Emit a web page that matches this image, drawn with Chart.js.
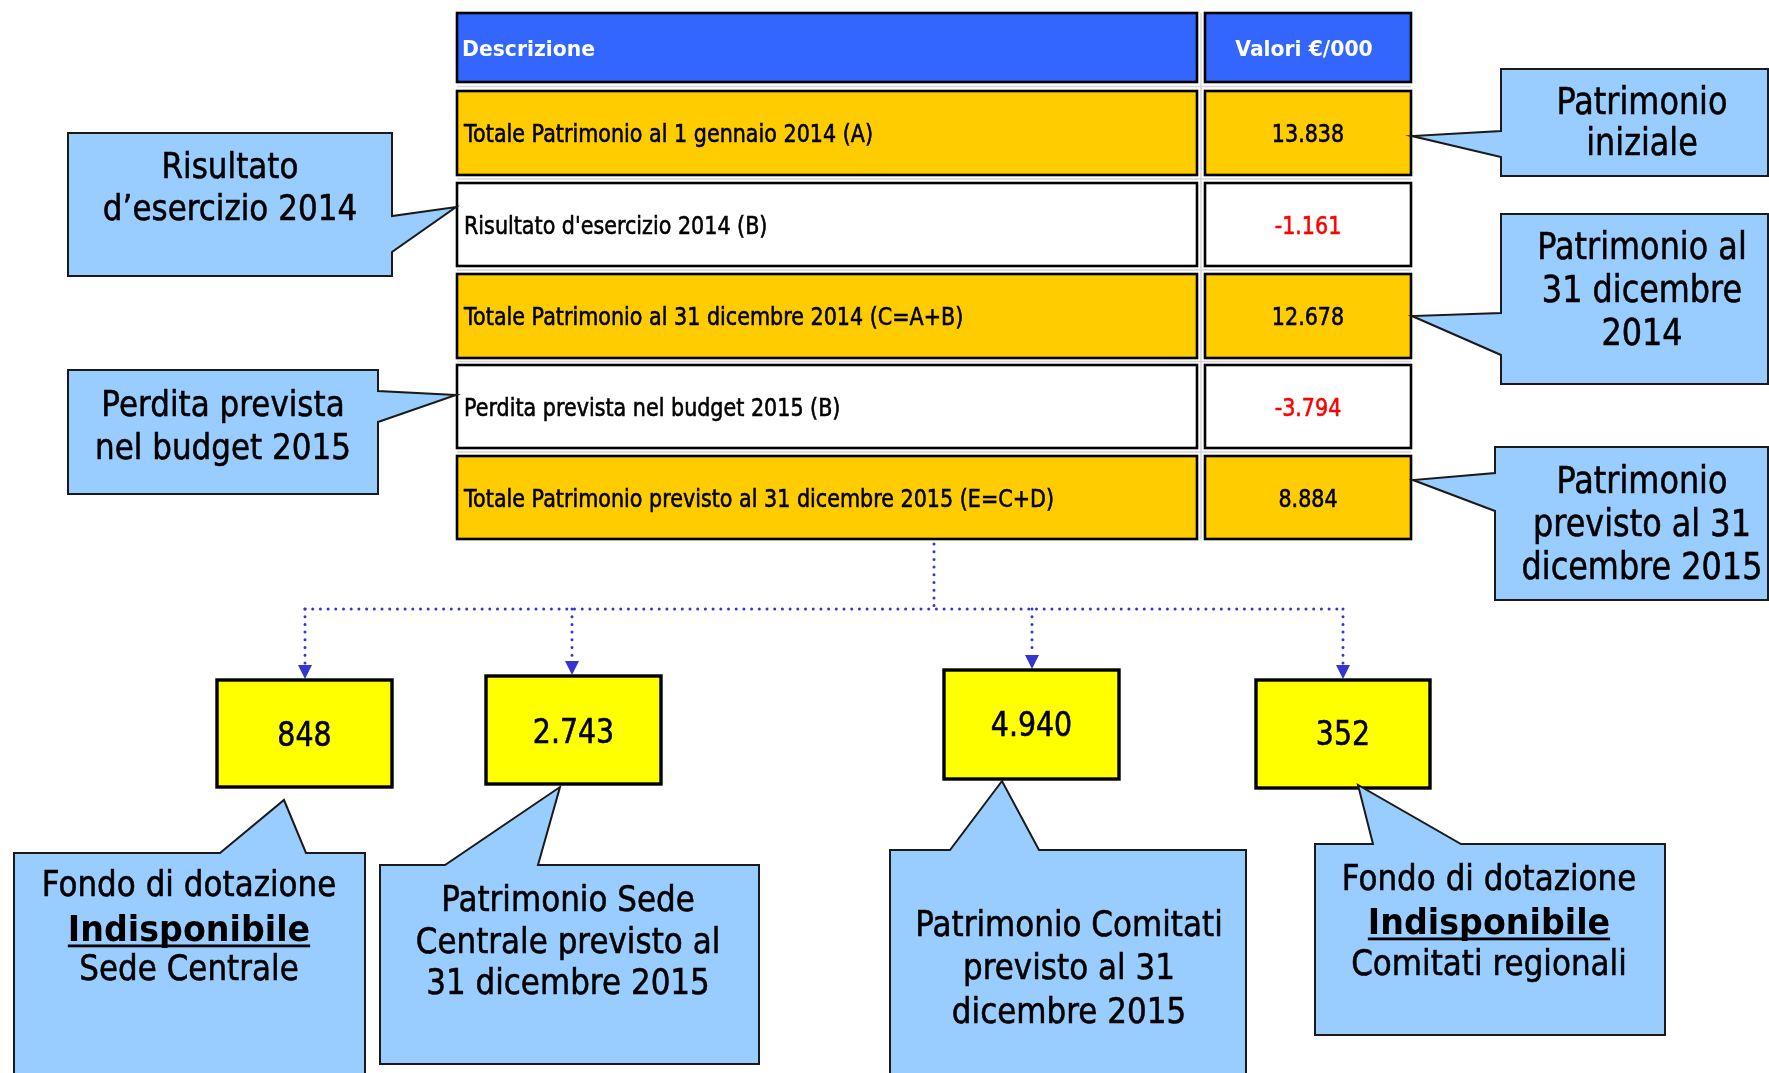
<!DOCTYPE html>
<html><head><meta charset="utf-8">
<script src="https://cdn.jsdelivr.net/npm/chart.js@4/dist/chart.umd.min.js"></script>
<style>html,body{margin:0;padding:0;background:#fff;overflow:hidden}canvas{display:block}</style>
</head><body>
<canvas id="c" width="1769" height="1073"></canvas>
<script>
// ---- data ----
const headerLabels = ['Descrizione', 'Valori €/000'];
const rowLabels = [
  'Totale Patrimonio al 1 gennaio 2014 (A)',
  "Risultato d'esercizio 2014 (B)",
  'Totale Patrimonio al 31 dicembre 2014 (C=A+B)',
  'Perdita prevista nel budget 2015 (B)',
  'Totale Patrimonio previsto al 31 dicembre 2015 (E=C+D)'
];
const rowValues = [13838, -1161, 12678, -3794, 8884];
const splitValues = [848, 2743, 4940, 352];
const leftNotes = [
  ['Risultato', 'd’esercizio 2014'],
  ['Perdita prevista', 'nel budget 2015']
];
const rightNotes = [
  ['Patrimonio', 'iniziale'],
  ['Patrimonio al', '31 dicembre', '2014'],
  ['Patrimonio', 'previsto al 31', 'dicembre 2015']
];
const bottomNotes = [
  ['Fondo di dotazione', 'Indisponibile', 'Sede Centrale'],
  ['Patrimonio Sede', 'Centrale previsto al', '31 dicembre 2015'],
  ['Patrimonio Comitati', 'previsto al 31', 'dicembre 2015'],
  ['Fondo di dotazione', 'Indisponibile', 'Comitati regionali']
];
const bottomEmphasis = [1, -1, -1, 1];

// ---- layout (positions in scale units) ----
const L = {
  colDesc: [457, 1197], colVal: [1205, 1411],
  header: [13, 82],
  rows: [[91,175],[183,266],[274,358],[365,448],[456,539]],
  rowFill: ['#FFCC00','#FFFFFF','#FFCC00','#FFFFFF','#FFCC00'],
  leftBoxes: [
    {x0:68,y0:133,x1:392,y1:276,b:[216,252],tip:[456,207],cx:230,base:[178,220],fs:36},
    {x0:68,y0:370,x1:378,y1:494,b:[391,422],tip:[456,395],cx:223,base:[416,459],fs:36}
  ],
  rightBoxes: [
    {x0:1501,y0:69,x1:1768,y1:176,b:[131,157],tip:[1412,136],cx:1642,base:[114,155],fs:37},
    {x0:1501,y0:214,x1:1768,y1:384,b:[313,355],tip:[1412,316],cx:1642,base:[259,302,345],fs:37},
    {x0:1495,y0:447,x1:1768,y1:600,b:[473,511],tip:[1413,480],cx:1642,base:[493,536,579],fs:37}
  ],
  splitBoxes: [
    {x0:217,y0:680,x1:392,y1:787,drop:305,base:746},
    {x0:486,y0:676,x1:661,y1:784,drop:572,base:743},
    {x0:944,y0:670,x1:1119,y1:779,drop:1032,base:736},
    {x0:1256,y0:680,x1:1430,y1:788,drop:1343,base:745}
  ],
  bottomBoxes: [
    {x0:14,y0:853,x1:365,y1:1085,b:[220,306],tip:[284,800],cx:189,base:[896,941,980]},
    {x0:380,y0:865,x1:759,y1:1064,b:[445,538],tip:[560,787],cx:568,base:[911,953,994]},
    {x0:890,y0:850,x1:1246,y1:1085,b:[950,1039],tip:[1002,781],cx:1069,base:[936,979,1023]},
    {x0:1315,y0:844,x1:1665,y1:1035,b:[1373,1461],tip:[1358,785],cx:1489,base:[890,934,975]}
  ],
  trunkX: 934, busY: 609
};

const FONT = '"DejaVu Sans", Verdana, sans-serif';
let SX = 1, SXB = 1;
function fmt(v){
  const s = Math.abs(v).toString().replace(/\B(?=(\d{3})+(?!\d))/g, '.');
  return (v < 0 ? '-' : '') + s;
}

const diagramPlugin = {
  id: 'diagram',
  afterDraw(chart) {
    const ctx = chart.ctx;
    const X = v => chart.scales.x.getPixelForValue(v);
    const Y = v => chart.scales.y.getPixelForValue(v);

    // calibrate horizontal condensing to emulate Tahoma proportions
    ctx.save();
    ctx.font = '24px ' + FONT;
    SX = 409 / ctx.measureText(rowLabels[0]).width;
    ctx.font = 'bold 22px ' + FONT;
    SXB = 133 / ctx.measureText(headerLabels[0]).width;
    ctx.restore();

    function txt(str, x, y, size, o = {}) {
      const sx = o.bold ? SXB : SX;
      ctx.save();
      ctx.font = (o.bold ? 'bold ' : '') + size + 'px ' + FONT;
      ctx.fillStyle = o.color || '#000';
      ctx.strokeStyle = o.color || '#000';
      ctx.textBaseline = 'alphabetic';
      ctx.textAlign = 'left';
      const w = ctx.measureText(str).width * sx;
      const x0 = o.align === 'center' ? x - w / 2 : x;
      ctx.translate(x0, y);
      ctx.scale(sx, 1);
      ctx.fillText(str, 0, 0);
      if (!o.bold) { ctx.lineWidth = 0.6; ctx.strokeText(str, 0, 0); }
      ctx.restore();
      if (o.underline) {
        ctx.save(); ctx.fillStyle = o.color || '#000';
        ctx.fillRect(x0, y + 3.5, w, 2.8); ctx.restore();
      }
    }
    function rect(x0, y0, x1, y1, fill, stroke, lw) {
      ctx.save();
      ctx.fillStyle = fill; ctx.fillRect(X(x0), Y(y0), X(x1) - X(x0), Y(y1) - Y(y0));
      ctx.strokeStyle = stroke; ctx.lineWidth = lw;
      ctx.strokeRect(X(x0), Y(y0), X(x1) - X(x0), Y(y1) - Y(y0));
      ctx.restore();
    }
    function callout(bx, side) {
      const x0 = X(bx.x0), y0 = Y(bx.y0), x1 = X(bx.x1), y1 = Y(bx.y1);
      const t = [X(bx.tip[0]), Y(bx.tip[1])];
      ctx.save();
      ctx.beginPath();
      ctx.moveTo(x0, y0);
      if (side === 'top') { ctx.lineTo(X(bx.b[0]), y0); ctx.lineTo(t[0], t[1]); ctx.lineTo(X(bx.b[1]), y0); }
      ctx.lineTo(x1, y0);
      if (side === 'right') { ctx.lineTo(x1, Y(bx.b[0])); ctx.lineTo(t[0], t[1]); ctx.lineTo(x1, Y(bx.b[1])); }
      ctx.lineTo(x1, y1);
      ctx.lineTo(x0, y1);
      if (side === 'left') { ctx.lineTo(x0, Y(bx.b[1])); ctx.lineTo(t[0], t[1]); ctx.lineTo(x0, Y(bx.b[0])); }
      ctx.closePath();
      ctx.fillStyle = '#99CCFF'; ctx.fill();
      ctx.strokeStyle = '#1a1a1a'; ctx.lineWidth = 2; ctx.lineJoin = 'miter'; ctx.stroke();
      ctx.restore();
    }

    // faint spreadsheet gridlines
    ctx.save();
    ctx.strokeStyle = '#d6d6d6'; ctx.lineWidth = 1.5;
    const gaps = [(L.header[1] + L.rows[0][0]) / 2];
    for (let i = 0; i < L.rows.length - 1; i++) gaps.push((L.rows[i][1] + L.rows[i + 1][0]) / 2);
    gaps.forEach(g => { ctx.beginPath(); ctx.moveTo(X(L.colDesc[0]), Y(g)); ctx.lineTo(X(L.colVal[1]), Y(g)); ctx.stroke(); });
    const gx = (L.colDesc[1] + L.colVal[0]) / 2;
    ctx.beginPath(); ctx.moveTo(X(gx), Y(L.header[0])); ctx.lineTo(X(gx), Y(L.rows[4][1])); ctx.stroke();
    ctx.restore();

    // header
    rect(L.colDesc[0], L.header[0], L.colDesc[1], L.header[1], '#3366FF', '#000', 2.6);
    rect(L.colVal[0], L.header[0], L.colVal[1], L.header[1], '#3366FF', '#000', 2.6);
    const hb = Y((L.header[0] + L.header[1]) / 2) + 8.5;
    txt(headerLabels[0], X(L.colDesc[0]) + 5, hb, 22, {bold: true, color: '#fff'});
    txt(headerLabels[1], X((L.colVal[0] + L.colVal[1]) / 2) - 4, hb, 22, {bold: true, color: '#fff', align: 'center'});

    // rows
    rowLabels.forEach((lab, i) => {
      const [a, b] = L.rows[i];
      rect(L.colDesc[0], a, L.colDesc[1], b, L.rowFill[i], '#000', 2.6);
      rect(L.colVal[0], a, L.colVal[1], b, L.rowFill[i], '#000', 2.6);
      const base = Y((a + b) / 2) + 9;
      txt(lab, X(L.colDesc[0]) + 7, base, 24);
      const v = rowValues[i];
      txt(fmt(v), X((L.colVal[0] + L.colVal[1]) / 2), base, 24, {align: 'center', color: v < 0 ? '#FF0000' : '#000'});
    });

    // side callouts
    L.leftBoxes.forEach((bx, i) => {
      callout(bx, 'right');
      leftNotes[i].forEach((ln, j) => txt(ln, X(bx.cx), Y(bx.base[j]), bx.fs, {align: 'center'}));
    });
    L.rightBoxes.forEach((bx, i) => {
      callout(bx, 'left');
      rightNotes[i].forEach((ln, j) => txt(ln, X(bx.cx), Y(bx.base[j]), bx.fs, {align: 'center'}));
    });

    // connectors
    ctx.save();
    ctx.strokeStyle = '#3535D0'; ctx.fillStyle = '#3535D0';
    ctx.lineWidth = 3; ctx.lineCap = 'round'; ctx.setLineDash([0, 7.7]);
    ctx.beginPath(); ctx.moveTo(X(L.trunkX), Y(L.rows[4][1]) + 5); ctx.lineTo(X(L.trunkX), Y(L.busY)); ctx.stroke();
    const dx = L.splitBoxes.map(b => b.drop);
    ctx.beginPath(); ctx.moveTo(X(Math.min(...dx)), Y(L.busY)); ctx.lineTo(X(Math.max(...dx)), Y(L.busY)); ctx.stroke();
    L.splitBoxes.forEach(b => {
      ctx.beginPath(); ctx.moveTo(X(b.drop), Y(L.busY)); ctx.lineTo(X(b.drop), Y(b.y0) - 15); ctx.stroke();
    });
    ctx.setLineDash([]);
    L.splitBoxes.forEach(b => {
      ctx.beginPath();
      ctx.moveTo(X(b.drop) - 7, Y(b.y0) - 15);
      ctx.lineTo(X(b.drop) + 7, Y(b.y0) - 15);
      ctx.lineTo(X(b.drop), Y(b.y0) - 1);
      ctx.closePath(); ctx.fill();
    });
    ctx.restore();

    // split boxes
    L.splitBoxes.forEach((b, i) => {
      rect(b.x0, b.y0, b.x1, b.y1, '#FFFF00', '#000', 3.4);
      txt(fmt(splitValues[i]), X((b.x0 + b.x1) / 2), Y(b.base), 33, {align: 'center'});
    });

    // bottom callouts
    L.bottomBoxes.forEach((bx, i) => {
      callout(bx, 'top');
      bottomNotes[i].forEach((ln, j) => {
        const em = bottomEmphasis[i] === j;
        txt(ln, X(bx.cx), Y(bx.base[j]), 36, {align: 'center', bold: em, underline: em});
      });
    });
  }
};

new Chart(document.getElementById('c'), {
  type: 'scatter',
  data: { datasets: [] },
  options: {
    responsive: false,
    animation: false,
    devicePixelRatio: 1,
    layout: { padding: 0 },
    plugins: { legend: { display: false }, tooltip: { enabled: false } },
    scales: {
      x: { type: 'linear', min: 0, max: 1769, display: false },
      y: { type: 'linear', min: 0, max: 1073, reverse: true, display: false }
    }
  },
  plugins: [diagramPlugin]
});
</script>
</body></html>
